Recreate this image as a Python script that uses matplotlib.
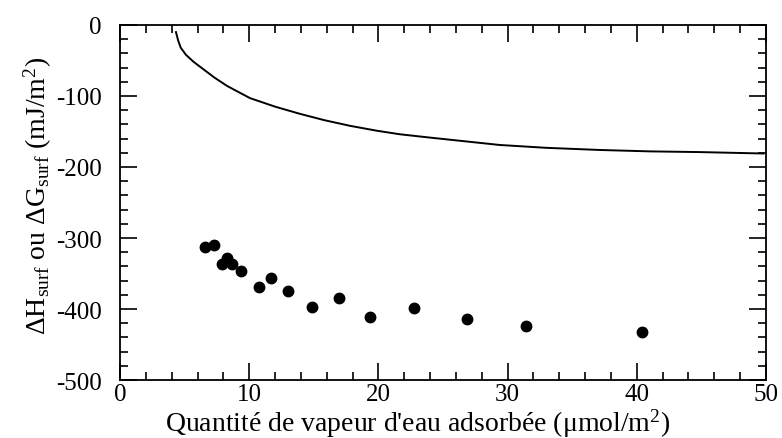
import matplotlib.pyplot as plt
from matplotlib.ticker import MultipleLocator

plt.rcParams['font.family'] = ['Liberation Serif', 'DejaVu Serif']
plt.rcParams['mathtext.fontset'] = 'custom'
plt.rcParams['mathtext.rm'] = 'Liberation Serif'
plt.rcParams['mathtext.it'] = 'Liberation Serif:italic'
plt.rcParams['axes.unicode_minus'] = False

# curve (Delta G surf)
curve_x = [4.33, 4.5, 4.7, 5.1, 5.7, 6.5, 7.3, 8.3, 10.06, 12.0, 13.9, 15.8, 17.8, 19.9,
           21.7, 24.2, 26.8, 29.4, 33.0, 37.1, 41.0, 44.9, 49.8]
curve_y = [-10, -22, -32, -42, -52, -63, -74, -86, -103, -115, -125, -134, -142, -149,
           -154, -159, -164, -169, -173, -176, -178, -179, -181]

# measured points (Delta H surf)
pts_x = [6.58, 7.3, 7.87, 8.26, 8.69, 9.37, 10.78, 11.69, 12.98, 14.88, 16.97,
         19.35, 22.78, 26.83, 31.42, 40.4]
pts_y = [-313, -310, -336, -328, -337, -347, -369, -356, -374, -397, -385,
         -411, -399, -414, -424, -433]

fig = plt.figure(figsize=(7.82, 4.39), dpi=100)
ax = fig.add_axes([0.1535, 0.1321, 0.826, 0.8087])

ax.plot(curve_x, curve_y, color='black', lw=1.4)
ax.plot(pts_x, pts_y, 'o', color='black', markersize=7.5)

ax.set_xlim(0, 50)
ax.set_ylim(-500, 0)
ax.xaxis.set_major_locator(MultipleLocator(10))
ax.xaxis.set_minor_locator(MultipleLocator(2))
ax.yaxis.set_major_locator(MultipleLocator(100))
ax.yaxis.set_minor_locator(MultipleLocator(20))
ax.tick_params(which='both', direction='in', top=True, right=True, labelsize=18, width=1.2)
ax.tick_params(which='major', length=12)
ax.tick_params(axis='y', which='major', pad=13)
ax.tick_params(axis='x', which='major', pad=2)
ax.tick_params(which='minor', length=6)
for s in ax.spines.values():
    s.set_linewidth(1.3)

ax.set_xlabel("Quantité de vapeur d'eau adsorbée (μmol/m$^2$)", fontsize=20)
ax.xaxis.set_label_coords(0.46, -0.076)
ax.set_ylabel('ΔH$_{\\rm surf}$ ou ΔG$_{\\rm surf}$ (mJ/m$^2$)', fontsize=20)
ax.yaxis.set_label_coords(-0.103, 0.52)

fig.savefig('out.png', dpi=100)
